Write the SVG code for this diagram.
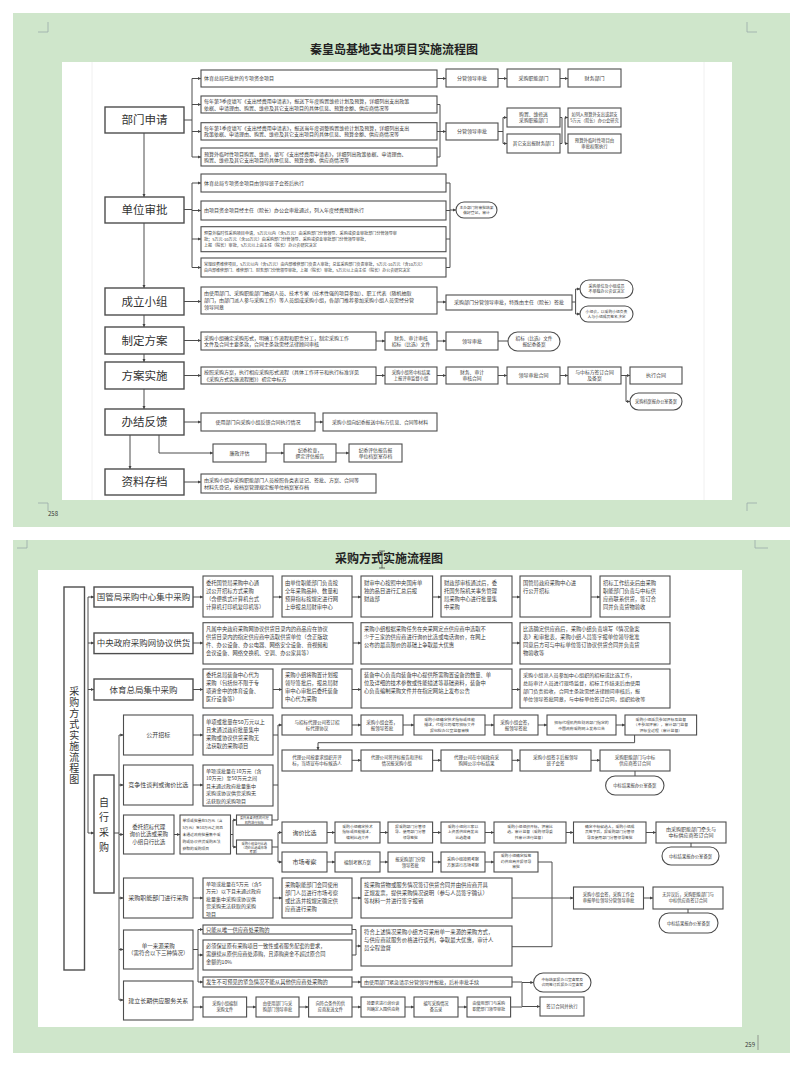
<svg xmlns="http://www.w3.org/2000/svg" width="800" height="1067" viewBox="0 0 800 1067">
<defs>
<marker id="ah" viewBox="0 0 6 6" refX="6" refY="3" markerWidth="3.2" markerHeight="3.2" orient="auto"><path d="M0,0 L6,3 L0,6 z" fill="#444"/></marker>
<style>
.b{fill:#fff;stroke:#4d4d4d;stroke-width:1.1}
.m{fill:#fff;stroke:#4d4d4d;stroke-width:1.4}
.c path{fill:none;stroke:#4d4d4d;stroke-width:1}
.c .a{marker-end:url(#ah)}
.mk{fill:none;stroke:#9aa;stroke-width:0.8}
text{font-family:"Noto Sans CJK SC","Liberation Sans",sans-serif;fill:#3a3a3a}
.ct{text-anchor:middle}
.tt{font-size:12px;font-weight:bold;fill:#222;text-anchor:middle}
.big{font-size:11.5px;fill:#333;text-anchor:middle}
.vt{writing-mode:vertical-rl;font-size:10px;fill:#333}
</style>
</defs>
<rect x="0" y="0" width="800" height="1067" fill="#fff"/>
<rect x="13" y="13" width="777" height="514" fill="#cfe6cb"/>
<rect x="13" y="540" width="777" height="513" fill="#cfe6cb"/>
<rect x="62" y="62" width="670" height="438" fill="#fff"/>
<rect x="38" y="570" width="704" height="457" fill="#fff"/>
<path d="M92,62 V500 M704,62 V500" stroke="#ececec" stroke-width="0.8"/>
<path class="mk" d="M48,22 V32 H38 M747,22 V32 H757 M38,503 H48 V511 M757,503 H747 V511 M27,540 V548 H17 M755,540 V548 H768"/>
<text x="48" y="516" font-size="6" fill="#777">258</text>
<text x="745" y="1047" font-size="6" fill="#777">259</text>
<path d="M758,1035 V1050" stroke="#777" stroke-width="0.7"/>
<text class="tt" x="394" y="54">秦皇岛基地支出项目实施流程图</text>
<text class="tt" x="389" y="563">采购方式实施流程图</text>
<path d="M382,551 V568 M379,551 H385 M379,568 H385" stroke="#333" stroke-width="0.7"/>

<g class="c" id="connectors">
<path class="a" d="M144,133 V197"/><path class="a" d="M144,222 V288"/><path class="a" d="M144,315 V327"/><path class="a" d="M144,354 V362"/><path class="a" d="M144,389 V409"/><path class="a" d="M130,435 V469"/><path class="a" d="M159,435 V453 H213"/>
<path d="M184,120 H192 M192,78.5 V157"/>
<path class="a" d="M192,78.5 H201"/><path class="a" d="M192,104.5 H201"/><path class="a" d="M192,131.5 H201"/><path class="a" d="M192,157 H201"/>
<path class="a" d="M437,78.5 H446"/><path class="a" d="M498,78.5 H507"/><path class="a" d="M560,78.5 H568"/>
<path d="M437,104.5 H440 M437,131.5 H440 M437,157 H440 M440,104.5 V157"/><path class="a" d="M440,131.5 H446"/>
<path d="M498,131.5 H503 M503,117.5 V143.5"/><path class="a" d="M503,117.5 H507"/><path class="a" d="M503,143.5 H507"/>
<path d="M560,117.5 H562 M560,143.5 H562 M562,117.5 V143.5 M565,117.5 V143.5"/><path class="a" d="M565,117.5 H568"/><path class="a" d="M565,143.5 H568"/>
<path d="M184,209.5 H192 M192,183 V267.5"/>
<path class="a" d="M192,183 H201"/><path class="a" d="M192,210.5 H201"/><path class="a" d="M192,239 H201"/><path class="a" d="M192,267.5 H201"/>
<path d="M446,183 H450 M446,210.5 H450 M446,239 H450 M446,267.5 H450 M450,183 V267.5"/><path class="a" d="M450,210 H456"/>
<path class="a" d="M184,301.5 H201"/><path class="a" d="M437,302 H446"/>
<path d="M572,302 H575.6 M575.6,289 V314"/><path class="a" d="M575.6,289 H580"/><path class="a" d="M575.6,314 H580"/>
<path class="a" d="M184,340.5 H201"/><path class="a" d="M376,341 H385"/><path class="a" d="M437,341 H446"/><path d="M498,341 H508"/>
<path class="a" d="M184,375.5 H201"/><path class="a" d="M376,375.5 H385"/><path class="a" d="M437,375.5 H446"/><path class="a" d="M498,375.5 H507"/><path class="a" d="M560,375.5 H568"/>
<path d="M621,375.5 H626 M626,375.5 V401.5"/><path class="a" d="M626,375.5 H630"/><path class="a" d="M626,401.5 H630"/>
<path class="a" d="M184,422 H201"/><path class="a" d="M315,422 H323"/><path class="a" d="M266,453 H284"/><path class="a" d="M336,453 H349"/>
<path class="a" d="M184,482 H201"/>

<path d="M88,597 V833"/>
<path class="a" d="M88,597 H94"/><path class="a" d="M88,643 H94"/><path class="a" d="M88,689.5 H94"/><path class="a" d="M88,833 H94"/>
<path class="a" d="M193,597 H203"/><path class="a" d="M273,597 H282"/><path class="a" d="M352,597 H361"/><path class="a" d="M432.6,597 H441"/><path class="a" d="M512,597 H520"/><path class="a" d="M591,597 H600"/>
<path class="a" d="M193,643 H203"/><path class="a" d="M353,643 H361"/><path class="a" d="M512,643 H520"/>
<path class="a" d="M193,689.5 H203"/><path class="a" d="M273,689.5 H282"/><path class="a" d="M352,689.5 H361"/><path class="a" d="M512,689.5 H520"/>
<path d="M114,833 H119 M119,735 V1000"/>
<path class="a" d="M119,735 H123.5"/><path class="a" d="M119,785 H123.5"/><path class="a" d="M119,834.5 H123.5"/><path class="a" d="M119,898 H123.5"/><path class="a" d="M119,949.5 H123.5"/><path class="a" d="M119,1000 H123.5"/>
<path class="a" d="M193,735 H203"/><path d="M273,735 H278 M278,725 V820"/><path class="a" d="M278,725 H282"/>
<path class="a" d="M352,725 H361"/><path class="a" d="M403,725 H414"/><path class="a" d="M485,725 H494"/><path class="a" d="M538,725 H547"/><path class="a" d="M616,725 H625"/>
<path class="a" d="M634.6,735 V742.7 H318 V750"/>
<path class="a" d="M352,760.3 H361"/><path class="a" d="M432.6,760.3 H441"/><path class="a" d="M512,760.3 H520"/><path class="a" d="M591,760.3 H600"/><path d="M635,771 V776"/>
<path class="a" d="M193,785 H203"/><path d="M273,785 H278"/>
<path class="a" d="M174,834.5 H180"/><path d="M230.5,834.5 H233 M233,820 V847"/><path class="a" d="M233,820 H236.5"/><path class="a" d="M233,847 H236.5"/>
<path d="M272,820 H278 M272,847 H278 M278,832.5 V862"/><path class="a" d="M278,832.5 H282"/><path class="a" d="M278,862 H282"/>
<path class="a" d="M327,832.5 H335"/><path class="a" d="M380,832.5 H388"/><path class="a" d="M432.6,832.5 H441"/><path class="a" d="M485,832.5 H494"/><path class="a" d="M566,832.5 H573.5"/><path class="a" d="M646,832.5 H656"/><path d="M691,843 V847"/>
<path class="a" d="M327,862 H335"/><path class="a" d="M380,862 H388"/><path class="a" d="M432.6,862 H441"/><path class="a" d="M485,862 H494"/><path d="M538,862 H552 V946.7"/>
<path class="a" d="M193,898 H203"/><path class="a" d="M273,898 H282"/><path class="a" d="M352,898 H361"/><path class="a" d="M512,898 H573.5"/><path class="a" d="M643.5,898 H653"/><path d="M688,909 V913"/>
<path d="M193,949.5 H198 M198,929.5 V982"/><path class="a" d="M198,929.5 H203"/><path class="a" d="M198,955 H203"/><path class="a" d="M198,982 H203"/>
<path d="M352,929.5 H356 M352,955 H356 M356,929.5 V955"/><path class="a" d="M356,946 H361"/><path d="M512,946.7 H552"/>
<path class="a" d="M352,982 H361"/><path d="M512,982 H522"/>
<path class="a" d="M193,1007 H203"/><path class="a" d="M246.6,1007 H256"/><path class="a" d="M299,1007 H308.6"/><path class="a" d="M352,1007 H361"/><path class="a" d="M405,1007 H414"/><path class="a" d="M458,1007 H467"/>
<path d="M510.6,1007 H522 M522,982.5 V1006.5"/><path class="a" d="M522,982.5 H533.6"/><path class="a" d="M522,1006.5 H540"/>
</g>

<!-- TOP PAGE NODES -->
<g id="n-bmsq"><rect class="m" x="105" y="107" width="79" height="26"/><text class="big" x="144.5" y="124">部门申请</text></g>
<g id="n-dwsp"><rect class="m" x="105" y="197" width="79" height="26"/><text class="big" x="144.5" y="214">单位审批</text></g>
<g id="n-clxz"><rect class="m" x="105" y="288" width="79" height="27"/><text class="big" x="144.5" y="305.5">成立小组</text></g>
<g id="n-zdfa"><rect class="m" x="105" y="327" width="79" height="27"/><text class="big" x="144.5" y="344.5">制定方案</text></g>
<g id="n-fass"><rect class="m" x="105" y="362" width="79" height="27"/><text class="big" x="144.5" y="379.5">方案实施</text></g>
<g id="n-bjfk"><rect class="m" x="105" y="409" width="79" height="26"/><text class="big" x="144.5" y="426">办结反馈</text></g>
<g id="n-zlcd"><rect class="m" x="105" y="469" width="79" height="26"/><text class="big" x="144.5" y="486">资料存档</text></g>

<g id="t-r1"><rect class="b" x="201" y="70" width="236" height="17"/><text x="204" y="80.3" font-size="5">体育总局已批复的专项资金项目</text></g>
<g id="t-r1a"><rect class="b" x="446" y="69" width="52" height="18"/><text class="ct" x="472" y="79.8" font-size="5">分管领导审批</text></g>
<g id="t-r1b"><rect class="b" x="507" y="69" width="53" height="18"/><text class="ct" x="533.5" y="79.8" font-size="5">采购职能部门</text></g>
<g id="t-r1c"><rect class="b" x="568" y="69" width="53" height="18"/><text class="ct" x="594.5" y="79.8" font-size="5">财务部门</text></g>
<g id="t-r2"><rect class="b" x="201" y="96" width="236" height="17"/><text font-size="5"><tspan x="204" y="103">每年第3季度填写《支出经费用申请表》，报送下年度购置维修计划及预算，详细列出支出政策</tspan><tspan x="204" y="109.5">依据、申请理由、购置、维修及其它支出项目的具体信息、预算金额、供应商情况等</tspan></text></g>
<g id="t-r3"><rect class="b" x="201" y="122.7" width="236" height="17.3"/><text font-size="5"><tspan x="204" y="129.9">每年第1季度填写《支出经费用申请表》，报送当年度调整购置维修计划及预算，详细列出支出</tspan><tspan x="204" y="136.4">政策依据、申请理由、购置、维修及其它支出项目的具体信息、预算金额、供应商情况等</tspan></text></g>
<g id="t-r4"><rect class="b" x="201" y="148" width="236" height="18"/><text font-size="5"><tspan x="204" y="155.5">预算外临时性项目购置、维修，填写《支出经费用申请表》，详细列出政策依据、申请理由、</tspan><tspan x="204" y="162">购置、维修及其它支出项目的具体信息、预算金额、供应商情况等</tspan></text></g>
<g id="t-r2a"><rect class="b" x="446" y="123" width="52" height="17"/><text class="ct" x="472" y="133.3" font-size="5">分管领导审批</text></g>
<g id="t-r2b"><rect class="b" x="507" y="108" width="53" height="19"/><text class="ct" font-size="4.8"><tspan x="533.5" y="116.2">购置、维修送</tspan><tspan x="533.5" y="122.2">采购职能部门</tspan></text></g>
<g id="t-r2c"><rect class="b" x="507" y="134" width="53" height="19"/><text class="ct" x="533.5" y="145.2" font-size="4.6">其它支出报财务部门</text></g>
<g id="t-r2d"><rect class="b" x="568" y="108" width="53" height="19"/><text class="ct" font-size="4.2"><tspan x="594.5" y="116">如列入预算外支出或超支</tspan><tspan x="594.5" y="121.7">5万元（院长）办公会研究</tspan></text></g>
<g id="t-r2e"><rect class="b" x="568" y="134" width="53" height="19"/><text class="ct" font-size="4.4"><tspan x="594.5" y="142">预算外临时性项目由</tspan><tspan x="594.5" y="147.7">审批权限执行</tspan></text></g>

<g id="t-r5"><rect class="b" x="201" y="174" width="245" height="18"/><text x="204" y="184.7" font-size="5">体育总局专项资金项目由领导班子会签后执行</text></g>
<g id="t-r6"><rect class="b" x="201" y="201" width="245" height="19"/><text x="204" y="212.2" font-size="5">由项目资金项目经主任（院长）办公会审批通过，列入年度经费预算执行</text></g>
<g id="t-r7"><rect class="b" x="201" y="226.7" width="245" height="25"/><text font-size="4.1"><tspan x="204" y="234.7">预算外临时性采购项目申请，5万元以内（含5万元）由采购部门分管领导、采购或资金审批部门分管领导审</tspan><tspan x="204" y="240.7">批；5万元-10万元（含10万元）由采购部门分管领导、采购或资金审批部门分管领导审批，</tspan><tspan x="204" y="246.7">上报（院长）审批，5万元以上由主任（院长）办公会研究决定</tspan></text></g>
<g id="t-r8"><rect class="b" x="201" y="258" width="245" height="19"/><text font-size="4"><tspan x="204" y="265.9">常规经费维修项目，5万元以内（含5万元）由内部维修部门负责人审批；总监采购部门负责审批，5万元-10万元（含10万元）</tspan><tspan x="204" y="271.9">由内部维修部门、维修部门、财务部门分管领导审批，上报（院长）审批，5万元以上由主任（院长）办公会研究决定</tspan></text></g>
<g id="t-r5a"><rect class="b" x="456" y="202" width="41" height="16" rx="8"/><text class="ct" font-size="3.8"><tspan x="476.5" y="208.8">主办部门将审批结果</tspan><tspan x="476.5" y="213.8">做好登记，审计</tspan></text></g>

<g id="t-r9"><rect class="b" x="201" y="287" width="236" height="27"/><text font-size="5"><tspan x="204" y="295.3">由使用部门、采购职能部门抽调人员、技术专家（技术性强的项目参加）、职工代表（随机抽取</tspan><tspan x="204" y="302.3">部门，由部门派人参与采购工作）等人员组成采购小组，各部门推荐参加采购小组人员需经分管</tspan><tspan x="204" y="309.3">领导同意</tspan></text></g>
<g id="t-r9a"><rect class="b" x="446" y="295" width="126" height="15"/><text class="ct" x="509" y="304.2" font-size="5">采购部门分管领导审批，特殊由主任（院长）签批</text></g>
<g id="t-r9b"><rect class="b" x="580" y="280" width="53" height="18" rx="9"/><text class="ct" font-size="4"><tspan x="606.5" y="287.8">采购单位及小组成员</tspan><tspan x="606.5" y="293">不单独办公会议决定</tspan></text></g>
<g id="t-r9c"><rect class="b" x="580" y="306" width="53" height="16" rx="8"/><text class="ct" font-size="3.8"><tspan x="606.5" y="312.8">小组会，以采购小组负责</tspan><tspan x="606.5" y="318">人与小组成员签名决定</tspan></text></g>

<g id="t-r10"><rect class="b" x="201" y="332" width="175" height="18"/><text font-size="5"><tspan x="204" y="339.5">采购小组确定采购形式，明确工作流程和职责分工，制定采购工作</tspan><tspan x="204" y="346">文件及合同主要条款，合同主条款需经法律顾问审核</tspan></text></g>
<g id="t-r10a"><rect class="b" x="385" y="332" width="52" height="18"/><text class="ct" font-size="4.8"><tspan x="411" y="339.5">财务、审计审核</tspan><tspan x="411" y="345.5">招标（比选）文件</tspan></text></g>
<g id="t-r10b"><rect class="b" x="446" y="332" width="52" height="18"/><text class="ct" x="472" y="342.7" font-size="5">领导审批</text></g>
<g id="t-r10c"><rect class="b" x="508" y="332" width="52" height="19" rx="9.5"/><text class="ct" font-size="4.6"><tspan x="534" y="340">招标（比选）文件</tspan><tspan x="534" y="346">报纪委备案</tspan></text></g>

<g id="t-r11"><rect class="b" x="201" y="367" width="175" height="17"/><text font-size="5"><tspan x="204" y="374">按照采购方案，执行相应采购形式流程（具体工作环节和执行标准详见</tspan><tspan x="204" y="380.5">《采购方式实施流程图》）初定中标方</tspan></text></g>
<g id="t-r11a"><rect class="b" x="385" y="367" width="52" height="17"/><text class="ct" font-size="4.3"><tspan x="411" y="374">采购小组将中标结果</tspan><tspan x="411" y="379.8">上报评审监督小组</tspan></text></g>
<g id="t-r11b"><rect class="b" x="446" y="367" width="52" height="17"/><text class="ct" font-size="4.8"><tspan x="472" y="374">财务、审计</tspan><tspan x="472" y="380">审核合同</tspan></text></g>
<g id="t-r11c"><rect class="b" x="507" y="367" width="53" height="17"/><text class="ct" x="533.5" y="377.2" font-size="5">领导审批合同</text></g>
<g id="t-r11d"><rect class="b" x="568" y="367" width="53" height="17"/><text class="ct" font-size="4.8"><tspan x="594.5" y="374">与中标方签订合同</tspan><tspan x="594.5" y="380">及备案</tspan></text></g>
<g id="t-r11e"><rect class="b" x="630" y="367" width="52" height="17"/><text class="ct" x="656" y="377.2" font-size="5">执行合同</text></g>
<g id="t-r11f"><rect class="b" x="630" y="393" width="52" height="17" rx="8.5"/><text class="ct" x="656" y="403" font-size="4.2">采购档案报办公室备案</text></g>

<g id="t-r12"><rect class="b" x="201" y="413" width="114" height="18"/><text class="ct" x="258" y="423.7" font-size="5">使用部门向采购小组反馈合同执行情况</text></g>
<g id="t-r12a"><rect class="b" x="323" y="413" width="114" height="18"/><text class="ct" x="380" y="423.7" font-size="4.8">采购小组向纪委报送中标方信息、合同等材料</text></g>
<g id="t-r13"><rect class="b" x="213" y="444" width="53" height="18"/><text class="ct" x="239.5" y="454.7" font-size="5">廉政评估</text></g>
<g id="t-r13a"><rect class="b" x="284" y="444" width="52" height="18"/><text class="ct" font-size="4.8"><tspan x="310" y="451.5">纪委检查，</tspan><tspan x="310" y="457.5">撰定评估报告</tspan></text></g>
<g id="t-r13b"><rect class="b" x="349" y="444" width="53" height="18"/><text class="ct" font-size="4.8"><tspan x="375.5" y="451.5">纪委评估报告报</tspan><tspan x="375.5" y="457.5">单位档案室存档</tspan></text></g>
<g id="t-r14"><rect class="b" x="201" y="474" width="175" height="19"/><text font-size="5"><tspan x="204" y="482">由采购小组申采购职能部门人员按照各类表证记、签批、方案、合同等</tspan><tspan x="204" y="488.5">材料先登记，按档案管理规定报单位档案室存档</tspan></text></g>

<!-- BOTTOM PAGE NODES -->
<g id="n-root"><rect class="m" x="64" y="587" width="20.5" height="383"/><text class="vt" x="74.3" y="686" letter-spacing="1">采购方式实施流程图</text></g>
<g id="n-ggj"><rect class="m" x="94" y="587" width="99" height="20"/><text class="ct" x="143.5" y="600" font-size="8.5">国管局采购中心集中采购</text></g>
<g id="n-zyzf"><rect class="m" x="94" y="633" width="99" height="20.6"/><text class="ct" x="143.5" y="646.3" font-size="8.5">中央政府采购网协议供货</text></g>
<g id="n-tyzj"><rect class="m" x="94" y="679" width="99" height="21"/><text class="ct" x="143.5" y="692.5" font-size="8.5">体育总局集中采购</text></g>
<g id="n-zxcg"><rect class="m" x="94" y="775" width="20" height="118"/><text class="vt" x="104" y="797" letter-spacing="5">自行采购</text></g>

<g id="b-r1a"><rect class="b" x="203" y="576" width="70" height="41"/><text font-size="5.3"><tspan x="206" y="584.5">委托国管局采购中心通</tspan><tspan x="206" y="592.5">过公开招标方式采购</tspan><tspan x="206" y="600.5">（含便携式计算机台式</tspan><tspan x="206" y="608.5">计算机打印机复印机等）</tspan></text></g>
<g id="b-r1b"><rect class="b" x="282" y="576" width="70" height="41"/><text font-size="5.3"><tspan x="285" y="584.5">由单位职能部门负责按</tspan><tspan x="285" y="592.5">全年采购品种、数量和</tspan><tspan x="285" y="600.5">预算指标按规定进行网</tspan><tspan x="285" y="608.5">上申报总局财审中心</tspan></text></g>
<g id="b-r1c"><rect class="b" x="361" y="576" width="71.6" height="41"/><text font-size="5.3"><tspan x="364" y="584.5">财审中心按照中央国库单</tspan><tspan x="364" y="592.5">独的品目进行汇总后报</tspan><tspan x="364" y="600.5">财政部</tspan></text></g>
<g id="b-r1d"><rect class="b" x="441" y="576" width="71" height="41"/><text font-size="5.3"><tspan x="444" y="584.5">财政部审核通过后，委</tspan><tspan x="444" y="592.5">托国务院机关事务管理</tspan><tspan x="444" y="600.5">局采购中心进行批量集</tspan><tspan x="444" y="608.5">中采购</tspan></text></g>
<g id="b-r1e"><rect class="b" x="520" y="576" width="71" height="41"/><text font-size="5.3"><tspan x="523" y="584.5">国管局政府采购中心进</tspan><tspan x="523" y="592.5">行公开招标</tspan></text></g>
<g id="b-r1f"><rect class="b" x="600" y="576" width="70" height="41"/><text font-size="5.3"><tspan x="603" y="584.5">招标工作结束后由采购</tspan><tspan x="603" y="592.5">职能部门负责与中标供</tspan><tspan x="603" y="600.5">应商联系供货，签订合</tspan><tspan x="603" y="608.5">同并负责货物验收</tspan></text></g>

<g id="b-r2a"><rect class="b" x="203" y="622.7" width="150" height="41.3"/><text font-size="5.3"><tspan x="206" y="631">凡属中央政府采购网协议供货目录内的商品应在协议</tspan><tspan x="206" y="639">供货目录内的指定供应商中选取供货单位（含正版软</tspan><tspan x="206" y="647">件、办公设备、办公电器、网络安全设备、音视频和</tspan><tspan x="206" y="655">会议设备、网络交换机、空调、办公家具等）</tspan></text></g>
<g id="b-r2b"><rect class="b" x="361" y="622.7" width="151" height="41.3"/><text font-size="5.3"><tspan x="364" y="631">采购小组根据采购任务在央采网定点供应商中选取不</tspan><tspan x="364" y="639">少于三家的供应商进行询价比选或电话询价，在网上</tspan><tspan x="364" y="647">公布的最高限价的基础上争取最大优惠</tspan></text></g>
<g id="b-r2c"><rect class="b" x="520" y="622.7" width="150" height="41.3"/><text font-size="5.3"><tspan x="523" y="631">比选确定供应商后，采购小组负责填写《情况备案</tspan><tspan x="523" y="639">表》和审批表，采购小组人员签字报单位领导批准</tspan><tspan x="523" y="647">同意后方可与中标单位签订协议供货合同并负责货</tspan><tspan x="523" y="655">物验收等</tspan></text></g>

<g id="b-r3a"><rect class="b" x="203" y="669" width="70" height="39"/><text font-size="5.3"><tspan x="206" y="677">委托总局装备中心代为</tspan><tspan x="206" y="685">采购（包括但不限于专</tspan><tspan x="206" y="693">项资金中的体育设备、</tspan><tspan x="206" y="701">医疗设备等）</tspan></text></g>
<g id="b-r3b"><rect class="b" x="282" y="669" width="70" height="39"/><text font-size="5.3"><tspan x="285" y="677">采购小组将购置计划报</tspan><tspan x="285" y="685">领导签批后，报总局财</tspan><tspan x="285" y="693">审中心审批后委托装备</tspan><tspan x="285" y="701">中心代为采购</tspan></text></g>
<g id="b-r3c"><rect class="b" x="361" y="669" width="151" height="39"/><text font-size="5.3"><tspan x="364" y="677">装备中心负责向装备中心提供所需购置设备的数量、单</tspan><tspan x="364" y="685">位及详细的技术参数或性能描述等基础资料，装备中</tspan><tspan x="364" y="693">心负责编制采购文件并在指定网站上发布公告</tspan></text></g>
<g id="b-r3d"><rect class="b" x="520" y="669" width="150" height="39"/><text font-size="5.1"><tspan x="523" y="677">采购小组派人员参加中心组织的招标或比选工作，</tspan><tspan x="523" y="685">总局审计人员进行现场监督，招标工作结束后由使用</tspan><tspan x="523" y="693">部门负责验收，合同主条款需经法律顾问审核后，报</tspan><tspan x="523" y="701">单位领导签批同意，与中标单位签订合同，组织验收等</tspan></text></g>

<g id="s-a"><rect class="b" x="123.5" y="715" width="69.5" height="40"/><text class="ct" x="158.25" y="737" font-size="6">公开招标</text></g>
<g id="s-b"><rect class="b" x="123.5" y="765" width="69.5" height="40"/><text class="ct" x="158.25" y="787" font-size="6">竞争性谈判或询价比选</text></g>
<g id="s-c"><rect class="b" x="123.5" y="815" width="50.5" height="39"/><text class="ct" font-size="5.5"><tspan x="148.75" y="828.9">委托招标代理</tspan><tspan x="148.75" y="836.4">询价比选或采购</tspan><tspan x="148.75" y="843.9">小组自行比选</tspan></text></g>
<g id="s-d"><rect class="b" x="123.5" y="878" width="69.5" height="40"/><text class="ct" x="158.25" y="900" font-size="6">采购职能部门进行采购</text></g>
<g id="s-e"><rect class="b" x="123.5" y="930" width="69.5" height="39"/><text class="ct" font-size="5.5"><tspan x="158.25" y="947.7">单一来源采购</tspan><tspan x="158.25" y="955.2">（需符合以下三种情况）</tspan></text></g>
<g id="s-f"><rect class="b" x="123.5" y="981" width="69.5" height="39"/><text class="ct" x="158.25" y="1002.5" font-size="6">建立长期供应服务关系</text></g>

<g id="a-1"><rect class="b" x="203" y="715" width="70" height="40"/><text font-size="5.3"><tspan x="206" y="723.5">单项或批量在50万元以上</tspan><tspan x="206" y="731.5">且未通过政府批量集中</tspan><tspan x="206" y="739.5">采购或协议供货采购无</tspan><tspan x="206" y="747.5">法获取的采购项目</tspan></text></g>
<g id="a-2"><rect class="b" x="282" y="715" width="70" height="20"/><text class="ct" font-size="4.5"><tspan x="317" y="723.5">与招标代理公司签订招</tspan><tspan x="317" y="729.5">标代理协议</tspan></text></g>
<g id="a-3"><rect class="b" x="361" y="715" width="42" height="20"/><text class="ct" font-size="4.5"><tspan x="382" y="723.5">采购小组会签，</tspan><tspan x="382" y="729.5">报领导签批</tspan></text></g>
<g id="a-4"><rect class="b" x="414" y="715" width="71" height="20"/><text class="ct" font-size="3.9"><tspan x="449.5" y="720.5">采购小组确定技术指标或性能</tspan><tspan x="449.5" y="726">描述，代理公司编写招标文件</tspan><tspan x="449.5" y="731.5">报纪检办公室监督审核</tspan></text></g>
<g id="a-5"><rect class="b" x="494" y="715" width="44" height="20"/><text class="ct" font-size="4.5"><tspan x="516" y="723.5">采购小组会签，</tspan><tspan x="516" y="729.5">报领导签批</tspan></text></g>
<g id="a-6"><rect class="b" x="547" y="715" width="69" height="20"/><text class="ct" font-size="3.9"><tspan x="581.5" y="723.5">招标代理机构在财政部门指定的</tspan><tspan x="581.5" y="729.5">中国政府采购网上发布公告</tspan></text></g>
<g id="a-7"><rect class="b" x="625" y="715" width="71.6" height="20"/><text class="ct" font-size="3.9"><tspan x="660.8" y="720.5">采购小组派员参加评标及监督</tspan><tspan x="660.8" y="726">（不参加评审），审计部门监督</tspan><tspan x="660.8" y="731.5">评标全过程（审计监督）</tspan></text></g>
<g id="a-8"><rect class="b" x="282" y="750" width="70" height="21"/><text class="ct" font-size="4.5"><tspan x="317" y="758.5">代理公司按要求组织开评</tspan><tspan x="317" y="764.5">标，当场宣布中标候选人</tspan></text></g>
<g id="a-9"><rect class="b" x="361" y="750" width="71.6" height="21"/><text class="ct" font-size="4.3"><tspan x="396.8" y="758.5">代理公司将评标报告和评标</tspan><tspan x="396.8" y="764.5">情况报采购小组</tspan></text></g>
<g id="a-10"><rect class="b" x="441" y="750" width="71" height="21"/><text class="ct" font-size="4.5"><tspan x="476.5" y="758.5">代理公司在中国政府采</tspan><tspan x="476.5" y="764.5">购网公示中标结果</tspan></text></g>
<g id="a-11"><rect class="b" x="520" y="750" width="71" height="21"/><text class="ct" font-size="4.5"><tspan x="555.5" y="758.5">采购小组签字后报领导</tspan><tspan x="555.5" y="764.5">班子会签</tspan></text></g>
<g id="a-12"><rect class="b" x="600" y="750" width="70" height="21"/><text class="ct" font-size="4.5"><tspan x="635" y="758.5">采购职能部门与中标</tspan><tspan x="635" y="764.5">供应商签订合同</tspan></text></g>
<g id="a-13"><rect class="b" x="605.6" y="776" width="58.4" height="19" rx="9.5"/><text class="ct" x="634.8" y="787" font-size="4.3">中标结果报办公室备案</text></g>

<g id="b-1"><rect class="b" x="203" y="765" width="70" height="41"/><text font-size="5"><tspan x="206" y="772.5">单项或批量在10万元（含</tspan><tspan x="206" y="780">10万元）至50万元之间</tspan><tspan x="206" y="787.5">且未通过政府批量集中</tspan><tspan x="206" y="795">采购或协议供货采购无</tspan><tspan x="206" y="802.5">法获取的采购项目</tspan></text></g>

<g id="c-1"><rect class="b" x="180" y="815" width="50.5" height="39"/><text font-size="3.8"><tspan x="182.5" y="822">单项或批量在5万元（含</tspan><tspan x="182.5" y="829">5万元）至10万元之间且</tspan><tspan x="182.5" y="836">未通过政府批量集中采</tspan><tspan x="182.5" y="843">购或协议供货采购无法</tspan><tspan x="182.5" y="850">获取的采购项目</tspan></text></g>
<g id="c-2"><rect class="b" x="236.5" y="815" width="35.5" height="10"/><text class="ct" font-size="3.2"><tspan x="254.25" y="819.3">委托具备资质的代理</tspan><tspan x="254.25" y="823.5">机构进行招标</tspan></text></g>
<g id="c-3"><rect class="b" x="236.5" y="840" width="35.5" height="14"/><text class="ct" font-size="3.2"><tspan x="254.25" y="844.5">采购小组自行比选</tspan><tspan x="254.25" y="848.5">（询价比选或市场</tspan><tspan x="254.25" y="852.5">考察）</tspan></text></g>

<g id="q-1"><rect class="b" x="282" y="822" width="45" height="21"/><text class="ct" x="304.5" y="834.5" font-size="6">询价比选</text></g>
<g id="q-2"><rect class="b" x="335" y="822" width="45" height="21"/><text class="ct" font-size="3.8"><tspan x="357.5" y="827.5">采购小组确定技术</tspan><tspan x="357.5" y="833">指标或性能描述，</tspan><tspan x="357.5" y="838.5">编制比选文件</tspan></text></g>
<g id="q-3"><rect class="b" x="388" y="822" width="44.6" height="21"/><text class="ct" font-size="3.8"><tspan x="410.3" y="827.5">报采购部门分管领</tspan><tspan x="410.3" y="833">导、使用部门分管</tspan><tspan x="410.3" y="838.5">领导签批</tspan></text></g>
<g id="q-4"><rect class="b" x="441" y="822" width="44" height="21"/><text class="ct" font-size="3.8"><tspan x="463" y="827.5">采购小组向三家以</tspan><tspan x="463" y="833">上资质供应商发出</tspan><tspan x="463" y="838.5">比选邀请</tspan></text></g>
<g id="q-5"><rect class="b" x="494" y="822" width="72" height="21"/><text class="ct" font-size="3.8"><tspan x="530" y="827.5">采购小组组织开标，评审比</tspan><tspan x="530" y="833">选，审计监督（采购领导委</tspan><tspan x="530" y="838.5">托审计进行监督）</tspan></text></g>
<g id="q-6"><rect class="b" x="573.5" y="822" width="72.5" height="21"/><text class="ct" font-size="3.8"><tspan x="609.75" y="827.5">确定中标候选人，采购小组成</tspan><tspan x="609.75" y="833">员签字后，报采购部门分管领</tspan><tspan x="609.75" y="838.5">导及使用部门分管领导签批</tspan></text></g>
<g id="q-7"><rect class="b" x="656" y="822" width="70" height="21"/><text class="ct" font-size="5"><tspan x="691" y="830.5">由采购职能部门牵头与</tspan><tspan x="691" y="837">中标供应商签订合同</tspan></text></g>
<g id="q-8"><rect class="b" x="662" y="847" width="57" height="18" rx="9"/><text class="ct" x="690.5" y="857.5" font-size="4.3">中标结果报办公室备案</text></g>

<g id="m-1"><rect class="b" x="282" y="852" width="45" height="20"/><text class="ct" x="304.5" y="864" font-size="6">市场考察</text></g>
<g id="m-2"><rect class="b" x="335" y="852" width="45" height="20"/><text class="ct" x="357.5" y="863.6" font-size="4.5">编制考察方案</text></g>
<g id="m-3"><rect class="b" x="388" y="852" width="44.6" height="20"/><text class="ct" font-size="4.3"><tspan x="410.3" y="860.5">报采购部门分管</tspan><tspan x="410.3" y="866.5">领导签批</tspan></text></g>
<g id="m-4"><rect class="b" x="441" y="852" width="44" height="20"/><text class="ct" font-size="4"><tspan x="463" y="860.5">采购小组按照考察</tspan><tspan x="463" y="866.5">方案进行市场考察</tspan></text></g>
<g id="m-5"><rect class="b" x="494" y="852" width="44" height="20"/><text class="ct" font-size="3.8"><tspan x="516" y="857">采购小组确定拟签</tspan><tspan x="516" y="862.5">约供应商并报领导</tspan><tspan x="516" y="868">审批</tspan></text></g>

<g id="d-1"><rect class="b" x="203" y="878" width="70" height="40"/><text font-size="5"><tspan x="206" y="885.5">单项或批量在5万元（含5</tspan><tspan x="206" y="893">万元）以下且未通过政府</tspan><tspan x="206" y="900.5">批量集中采购或协议供</tspan><tspan x="206" y="908">货采购无法获取的采购</tspan><tspan x="206" y="915.5">项目</tspan></text></g>
<g id="d-2"><rect class="b" x="282" y="878" width="70" height="40"/><text font-size="5.3"><tspan x="285" y="886.5">采购职能部门会同使用</tspan><tspan x="285" y="894.5">部门人员进行市场考察</tspan><tspan x="285" y="902.5">或比选并按规定确定供</tspan><tspan x="285" y="910.5">应商进行采购</tspan></text></g>
<g id="d-3"><rect class="b" x="361" y="878" width="151" height="40"/><text font-size="5.4"><tspan x="364" y="887">按采购货物或服务情况签订供货合同并由供应商开具</tspan><tspan x="364" y="895">正规发票，提供采购情况说明（参与人员签字确认）</tspan><tspan x="364" y="903">等材料一并进行签字报销</tspan></text></g>
<g id="d-4"><rect class="b" x="573.5" y="887" width="70" height="22"/><text class="ct" font-size="4.3"><tspan x="608.5" y="895.5">采购小组会签，采购工作会</tspan><tspan x="608.5" y="901.5">审报单位领导分管领导审批</tspan></text></g>
<g id="d-5"><rect class="b" x="653" y="887" width="70" height="22"/><text class="ct" font-size="4.3"><tspan x="688" y="895.5">无异议后，采购职能部门与</tspan><tspan x="688" y="901.5">中标供应商签订合同</tspan></text></g>
<g id="d-6"><rect class="b" x="659" y="913" width="59" height="20" rx="10"/><text class="ct" x="688.5" y="924.5" font-size="4.3">中标结果报办公室备案</text></g>

<g id="e-1"><rect class="b" x="203" y="925" width="149" height="9"/><text x="206" y="931.5" font-size="5.3">只能从唯一供应商处采购的</text></g>
<g id="e-2"><rect class="b" x="203" y="940" width="149" height="30"/><text font-size="5.2"><tspan x="206" y="947.5">必须保证原有采购项目一致性或者服务配套的要求，</tspan><tspan x="206" y="955.5">需继续从原供应商处添购，且添购资金不超过原合同</tspan><tspan x="206" y="963.5">金额的10%</tspan></text></g>
<g id="e-3"><rect class="b" x="203" y="977" width="149" height="10"/><text x="206" y="984" font-size="5.3">发生不可预见的紧急情况不能从其他供应商处采购的</text></g>
<g id="e-4"><rect class="b" x="361" y="926" width="151" height="40"/><text font-size="5.4"><tspan x="364" y="934">符合上述情况采购小组方可采用单一来源的采购方式，</tspan><tspan x="364" y="942">与供应商就服务价格进行谈判，争取最大优惠，审计人</tspan><tspan x="364" y="950">员全程监督</tspan></text></g>
<g id="e-5"><rect class="b" x="361" y="977" width="151" height="10"/><text x="364" y="984" font-size="5">由使用部门紧急请示分管领导并报批，后补审批手续</text></g>
<g id="e-6"><rect class="b" x="533.6" y="973" width="57.4" height="19" rx="9.5"/><text class="ct" font-size="3.8"><tspan x="562.3" y="981">中标结果报办公室备案及</tspan><tspan x="562.3" y="986">合同签订后报办公室备案</tspan></text></g>

<g id="f-1"><rect class="b" x="203" y="997" width="43.6" height="20"/><text class="ct" font-size="4.2"><tspan x="224.8" y="1004.5">采购小组编制</tspan><tspan x="224.8" y="1010.5">采购文件</tspan></text></g>
<g id="f-2"><rect class="b" x="256" y="997" width="43" height="20"/><text class="ct" font-size="4.2"><tspan x="277.5" y="1004.5">由使用部门与采</tspan><tspan x="277.5" y="1010.5">购部门领导审批</tspan></text></g>
<g id="f-3"><rect class="b" x="308.6" y="997" width="43.4" height="20"/><text class="ct" font-size="4.2"><tspan x="330.3" y="1004.5">向符合条件的供</tspan><tspan x="330.3" y="1010.5">应商发送文件</tspan></text></g>
<g id="f-4"><rect class="b" x="361" y="997" width="44" height="20"/><text class="ct" font-size="4.1"><tspan x="383" y="1004.5">按要求进行询价谈</tspan><tspan x="383" y="1010.5">判确定入围供应商</tspan></text></g>
<g id="f-5"><rect class="b" x="414" y="997" width="44" height="20"/><text class="ct" font-size="4.2"><tspan x="436" y="1004.5">编写采购情况</tspan><tspan x="436" y="1010.5">备忘录</tspan></text></g>
<g id="f-6"><rect class="b" x="467" y="997" width="43.6" height="20"/><text class="ct" font-size="4.1"><tspan x="488.8" y="1004.5">由使用部门与采购</tspan><tspan x="488.8" y="1010.5">职能部门领导审批</tspan></text></g>
<g id="f-7"><rect class="b" x="540" y="997" width="44" height="19"/><text class="ct" x="562" y="1008" font-size="4.5">签订合同并执行</text></g>
</svg>
